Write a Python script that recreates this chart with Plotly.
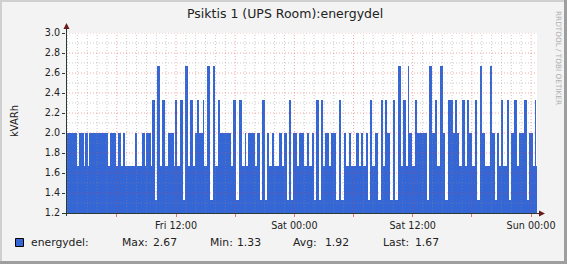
import numpy as np
import pandas as pd
import plotly.graph_objects as go

# ---------------- data ----------------
start_time = "2024-03-01 00:56:55"     # Friday, first sample
step_seconds = 365                      # sample interval
levels = [2.0,1.67,2.0,1.67,2.0,1.67,2.0,1.67,2.0,1.67,
          2.0,1.67,2.0,1.67,2.0,1.67,2.0,1.67,2.0,1.67,
          2.33,1.33,2.67,1.67,2.33,1.67,2.0,1.67,2.33,1.67,
          2.33,1.33,2.67,1.67,2.33,1.67,2.0,2.33,2.0,2.33,
          1.67,2.67,1.33,2.67,1.67,2.33,2.0,1.67,2.33,1.33,
          2.33,1.67,2.0,1.67,2.0,1.67,2.0,1.33,2.33,1.33,
          2.0,1.67,2.0,1.67,2.0,1.67,2.0,1.33,2.33,1.33,
          2.0,1.67,2.0,1.67,2.0,1.67,2.0,1.33,2.33,1.33,
          2.33,1.67,2.0,1.67,2.0,1.33,2.33,1.33,2.0,1.67,
          2.0,1.67,2.0,1.67,2.0,1.67,2.0,1.33,2.33,1.67,
          2.0,1.33,2.33,1.67,2.33,2.0,1.33,2.33,1.33,2.67,
          1.67,2.33,1.67,2.67,2.0,1.67,2.33,2.0,1.33,2.67,
          2.0,2.33,1.67,2.67,2.0,1.33,2.33,2.0,2.33,2.0,
          1.67,2.33,1.67,2.33,2.0,1.67,2.33,1.33,2.67,2.0,
          1.67,2.67,2.0,1.33,2.0,1.67,2.33,1.67,2.33,1.33,
          2.0,2.33,1.67,2.0,2.33,1.33,2.0,1.67,2.33,1.67]
counts = [10,2,5,1,3,1,19,2,6,2,
          3,2,2,10,2,5,3,1,5,1,
          3,2,3,2,3,3,6,1,2,3,
          3,2,3,2,3,2,2,2,4,1,
          3,3,3,2,3,2,11,2,3,3,
          3,3,1,2,7,2,3,2,3,2,
          2,3,2,5,3,2,3,2,2,2,
          4,2,5,3,2,3,2,2,3,2,
          2,2,4,2,5,3,2,3,2,3,
          2,5,3,2,2,3,2,2,2,3,
          3,3,2,2,2,3,3,2,3,3,
          2,3,2,1,3,3,2,10,2,3,
          3,2,3,3,2,3,5,2,2,2,
          3,3,2,2,3,3,2,3,2,3,
          5,2,3,2,2,2,2,4,2,2,
          3,3,2,5,3,2,4,2,1,1]

series_name = "energydel"
unit_label = "kVARh"
title_text = "Psiktis 1 (UPS Room):energydel"
stat_names = ["Max:", "Min:", "Avg:", "Last:"]
stat_values = ["2.67", "1.33", "1.92", "1.67"]
y_ticks = [1.2, 1.4, 1.6, 1.8, 2.0, 2.2, 2.4, 2.6, 2.8, 3.0]
x_ticks = ["2024-03-01 06:00", "2024-03-01 12:00", "2024-03-01 18:00",
           "2024-03-02 00:00", "2024-03-02 06:00", "2024-03-02 12:00",
           "2024-03-02 18:00", "2024-03-03 00:00"]
x_ticktext = ["", "Fri 12:00", "", "Sat 00:00", "", "Sat 12:00", "", "Sun 00:00"]
x_range = ["2024-03-01 00:50:50", "2024-03-03 00:36:05"]
y_range = [1.2, 3.0]

# ---------------- build series ----------------
vals = np.repeat(np.array(levels), np.array(counts))
t0 = pd.Timestamp(start_time)
times = t0 + pd.to_timedelta(np.arange(len(vals) + 1) * step_seconds, unit="s")
yv = np.append(vals, vals[-1])

BLUE = "#3466D5"
W, H = 567, 264
L, R, T, B = 66, 537, 33, 213


def fx(px):
    return (px - L) / (R - L)


def fy(py):
    return (B - py) / (B - T)


fig = go.Figure()
fig.add_trace(go.Scatter(x=times, y=yv, mode="lines", line=dict(shape="hv", width=0, color=BLUE),
                         fill="tozeroy", fillcolor=BLUE, hoverinfo="skip", showlegend=False))

shapes = []
# grid (drawn above the area like rrdtool)
minor_col = "rgba(140,140,140,0.45)"
major_col = "rgba(230,60,60,0.45)"
hours = pd.date_range("2024-03-01 01:00", "2024-03-03 00:00", freq="1h")
for h in hours:
    major = (h.hour % 6 == 0)
    shapes.append(dict(type="line", xref="x", yref="paper", x0=h, x1=h, y0=0, y1=1, layer="above",
                       line=dict(color=major_col if major else minor_col, width=1, dash="1px,2px")))
for i in range(13, 31):
    v = i / 10
    major = (i % 2 == 0)
    shapes.append(dict(type="line", xref="paper", yref="y", x0=0, x1=1, y0=v, y1=v, layer="above",
                       line=dict(color=major_col if major else minor_col, width=1, dash="1px,2px")))

# axes lines and arrows
AX = "#2C3A36"
ARR = "#6A1A1A"
shapes.append(dict(type="line", xref="paper", yref="paper", x0=fx(66.5), x1=fx(66.5), y0=fy(216), y1=fy(28),
                   line=dict(color=AX, width=1), layer="above"))
shapes.append(dict(type="line", xref="paper", yref="paper", x0=fx(63), x1=fx(540), y0=fy(213.5), y1=fy(213.5),
                   line=dict(color=AX, width=1), layer="above"))
shapes.append(dict(type="path", xref="paper", yref="paper",
                   path=f"M {fx(66.5)} {fy(23)} L {fx(63.5)} {fy(29)} L {fx(69.5)} {fy(29)} Z",
                   fillcolor=ARR, line=dict(width=0), layer="above"))
shapes.append(dict(type="path", xref="paper", yref="paper",
                   path=f"M {fx(545)} {fy(213.5)} L {fx(539)} {fy(210.5)} L {fx(539)} {fy(216.5)} Z",
                   fillcolor=ARR, line=dict(width=0), layer="above"))

# frame
shapes.append(dict(type="rect", xref="paper", yref="paper", x0=fx(0), x1=fx(567), y0=fy(0), y1=fy(2),
                   fillcolor="#CFCFCF", line=dict(width=0), layer="above"))
shapes.append(dict(type="rect", xref="paper", yref="paper", x0=fx(0), x1=fx(2), y0=fy(0), y1=fy(264),
                   fillcolor="#CFCFCF", line=dict(width=0), layer="above"))
shapes.append(dict(type="rect", xref="paper", yref="paper", x0=fx(564), x1=fx(567), y0=fy(0), y1=fy(264),
                   fillcolor="#9E9E9E", line=dict(width=0), layer="above"))
shapes.append(dict(type="rect", xref="paper", yref="paper", x0=fx(0), x1=fx(567), y0=fy(261), y1=fy(264),
                   fillcolor="#9E9E9E", line=dict(width=0), layer="above"))

# legend swatch
shapes.append(dict(type="rect", xref="paper", yref="paper", x0=fx(15.5), x1=fx(23.5), y0=fy(238.5), y1=fy(246.5),
                   fillcolor=BLUE, line=dict(color="#000000", width=1), layer="above"))

FONT = "DejaVu Sans"
TXT = "#222222"
ann = []
ann.append(dict(x=fx(284.5), y=fy(14), xref="paper", yref="paper", text=title_text, showarrow=False,
                xanchor="center", yanchor="middle", font=dict(family=FONT, size=12.5, color=TXT)))
ann.append(dict(x=fx(14), y=fy(121), xref="paper", yref="paper", text=unit_label, showarrow=False,
                textangle=-90, xanchor="center", yanchor="middle", font=dict(family=FONT, size=10, color=TXT)))
ann.append(dict(x=fx(558), y=fy(58), xref="paper", yref="paper", text="RRDTOOL / TOBI OETIKER", showarrow=False,
                textangle=90, xanchor="center", yanchor="middle", font=dict(family=FONT, size=7.3, color="#B0B0B0")))
LY = 242.5
ann.append(dict(x=fx(28.5), y=fy(LY), xref="paper", yref="paper", text=series_name + ":", showarrow=False,
                xanchor="left", yanchor="middle", font=dict(family=FONT, size=10.8, color=TXT)))
name_x = [120, 207.5, 291, 380.5]
val_x = [150.5, 234.5, 323, 412.5]
for n, v, nx, vx in zip(stat_names, stat_values, name_x, val_x):
    ann.append(dict(x=fx(nx), y=fy(LY), xref="paper", yref="paper", text=n, showarrow=False,
                    xanchor="left", yanchor="middle", font=dict(family=FONT, size=10.8, color=TXT)))
    ann.append(dict(x=fx(vx), y=fy(LY), xref="paper", yref="paper", text=v, showarrow=False,
                    xanchor="left", yanchor="middle", font=dict(family=FONT, size=10.8, color=TXT)))

fig.update_layout(
    width=W, height=H,
    margin=dict(l=L, r=W - R, t=T, b=H - B, pad=0),
    paper_bgcolor="#F3F3F3", plot_bgcolor="#FFFFFF",
    shapes=shapes, annotations=ann, showlegend=False,
    xaxis=dict(type="date", range=x_range, tickvals=x_ticks, ticktext=x_ticktext,
               showgrid=False, zeroline=False, showline=False,
               ticks="outside", ticklen=3, tickcolor="rgba(230,60,60,0.7)",
               tickfont=dict(family=FONT, size=9.6, color=TXT), fixedrange=True),
    yaxis=dict(range=y_range, tickvals=y_ticks, ticktext=[f"{v:.1f}" for v in y_ticks],
               showgrid=False, zeroline=False, showline=False,
               ticks="outside", ticklen=3, tickcolor=AX,
               tickfont=dict(family=FONT, size=9.6, color=TXT), fixedrange=True),
)

fig.write_html("out.html")
